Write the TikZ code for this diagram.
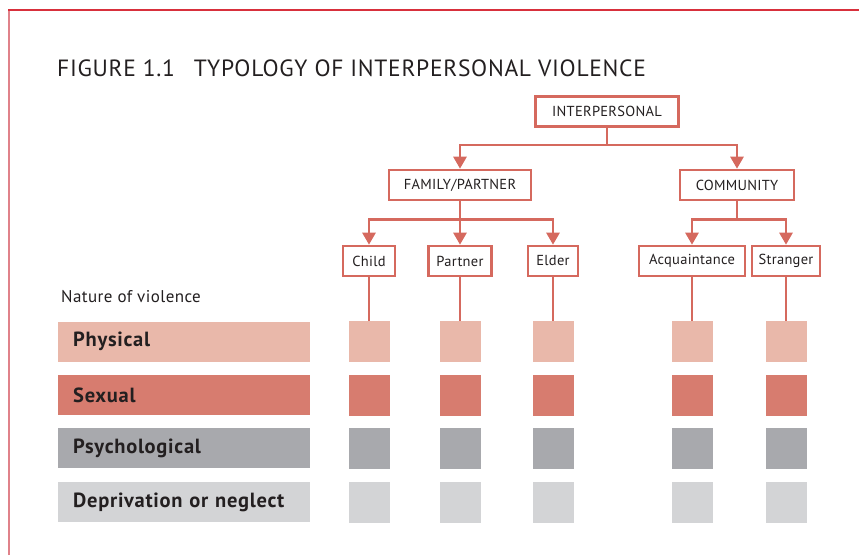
\documentclass[tikz,border=0pt]{standalone}
\usepackage{fontspec}
\setmainfont{PT Sans}
\usepackage{xcolor}
\usetikzlibrary{arrows.meta}
\definecolor{boxred}{HTML}{D5695E}
\definecolor{ink}{HTML}{231F20}
\definecolor{framered}{HTML}{D8303C}
\definecolor{framepink}{HTML}{E0828A}
\definecolor{physcol}{HTML}{E9B8AA}
\definecolor{sexcol}{HTML}{D77C6F}
\definecolor{psycol}{HTML}{A8A9AD}
\definecolor{depcol}{HTML}{D3D4D6}

\begin{document}
\begin{tikzpicture}[x=1pt,y=-1pt]
\tikzset{>={Triangle[width=13pt,length=12pt]}}
\tikzstyle{typebox}=[draw=boxred,line width=2.6pt,fill=white,minimum height=30pt,inner sep=0pt,text=ink,font=\fontsize{14.5}{16}\selectfont\addfontfeature{LetterSpace=2}]
\tikzstyle{link}=[draw=boxred,line width=2.6pt]
\tikzstyle{cell}=[minimum size=41pt,inner sep=0pt]
\tikzstyle{legend}=[anchor=west,text width=222pt,inner xsep=15pt,inner ysep=0pt,minimum height=40pt,align=left,text=ink,font=\fontsize{20.5}{22}\selectfont\bfseries\addfontfeature{LetterSpace=3.5}]

\useasboundingbox (0,0) rectangle (859,555);

% frame
\draw[framepink,line width=2pt] (9,555) -- (9,10);
\draw[framered,line width=2pt] (8,10) -- (859,10);

\node[anchor=base west,inner sep=0pt,text=ink,font=\fontsize{23.5}{26}\selectfont\addfontfeature{LetterSpace=3}](title) at (57,76){FIGURE 1.1\hspace{0.5em} TYPOLOGY OF INTERPERSONAL VIOLENCE};

% tree
\node[typebox,minimum width=143pt](inter) at (607,111.5){INTERPERSONAL};
\node[typebox,minimum width=142pt](fam) at (460,185){FAMILY/PARTNER};
\node[typebox,minimum width=114pt](comm) at (737,185){COMMUNITY};
\node[typebox,minimum width=52pt](child) at (369,261){Child};
\node[typebox,minimum width=63pt](partner) at (460,261){Partner};
\node[typebox,minimum width=50pt](elder) at (553,261){Elder};
\node[typebox,minimum width=106pt](acq) at (692,261){Acquaintance};
\node[typebox,minimum width=68pt](stranger) at (786,261){Stranger};

\draw[link,->] (inter.south) -- ++(0,17) -| (fam.north);
\draw[link,->] (inter.south) -- ++(0,17) -| (comm.north);
\draw[link,->] (fam.south) -- ++(0,18) -| (child.north);
\draw[link,->] (fam.south) -- (partner.north);
\draw[link,->] (fam.south) -- ++(0,18) -| (elder.north);
\draw[link,->] (comm.south) -- ++(0,18) -| (acq.north);
\draw[link,->] (comm.south) -- ++(0,18) -| (stranger.north);

% nature of violence
\node[anchor=west,inner sep=0pt,text=ink,font=\fontsize{17}{18}\selectfont\addfontfeature{LetterSpace=2.5}](nature) at (61,297){Nature of violence};
\node[legend,fill=physcol](phys) at (58,341.5){Physical};
\node[legend,fill=sexcol](sex) at (58,395){Sexual};
\node[legend,fill=psycol](psy) at (58,448){Psychological};
\node[legend,fill=depcol](dep) at (58,502){Deprivation or neglect};

\node[cell,fill=physcol](c11) at (369,341.5){};
\node[cell,fill=physcol](c12) at (460,341.5){};
\node[cell,fill=physcol](c13) at (553,341.5){};
\node[cell,fill=physcol](c14) at (692,341.5){};
\node[cell,fill=physcol](c15) at (786,341.5){};
\node[cell,fill=sexcol](c21) at (369,395){};
\node[cell,fill=sexcol](c22) at (460,395){};
\node[cell,fill=sexcol](c23) at (553,395){};
\node[cell,fill=sexcol](c24) at (692,395){};
\node[cell,fill=sexcol](c25) at (786,395){};
\node[cell,fill=psycol](c31) at (369,448){};
\node[cell,fill=psycol](c32) at (460,448){};
\node[cell,fill=psycol](c33) at (553,448){};
\node[cell,fill=psycol](c34) at (692,448){};
\node[cell,fill=psycol](c35) at (786,448){};
\node[cell,fill=depcol](c41) at (369,502){};
\node[cell,fill=depcol](c42) at (460,502){};
\node[cell,fill=depcol](c43) at (553,502){};
\node[cell,fill=depcol](c44) at (692,502){};
\node[cell,fill=depcol](c45) at (786,502){};

\draw[link,line width=2.2pt] (child.south) -- (c11.north);
\draw[link,line width=2.2pt] (partner.south) -- (c12.north);
\draw[link,line width=2.2pt] (elder.south) -- (c13.north);
\draw[link,line width=2.2pt] (acq.south) -- (c14.north);
\draw[link,line width=2.2pt] (stranger.south) -- (c15.north);
\end{tikzpicture}
\end{document}
